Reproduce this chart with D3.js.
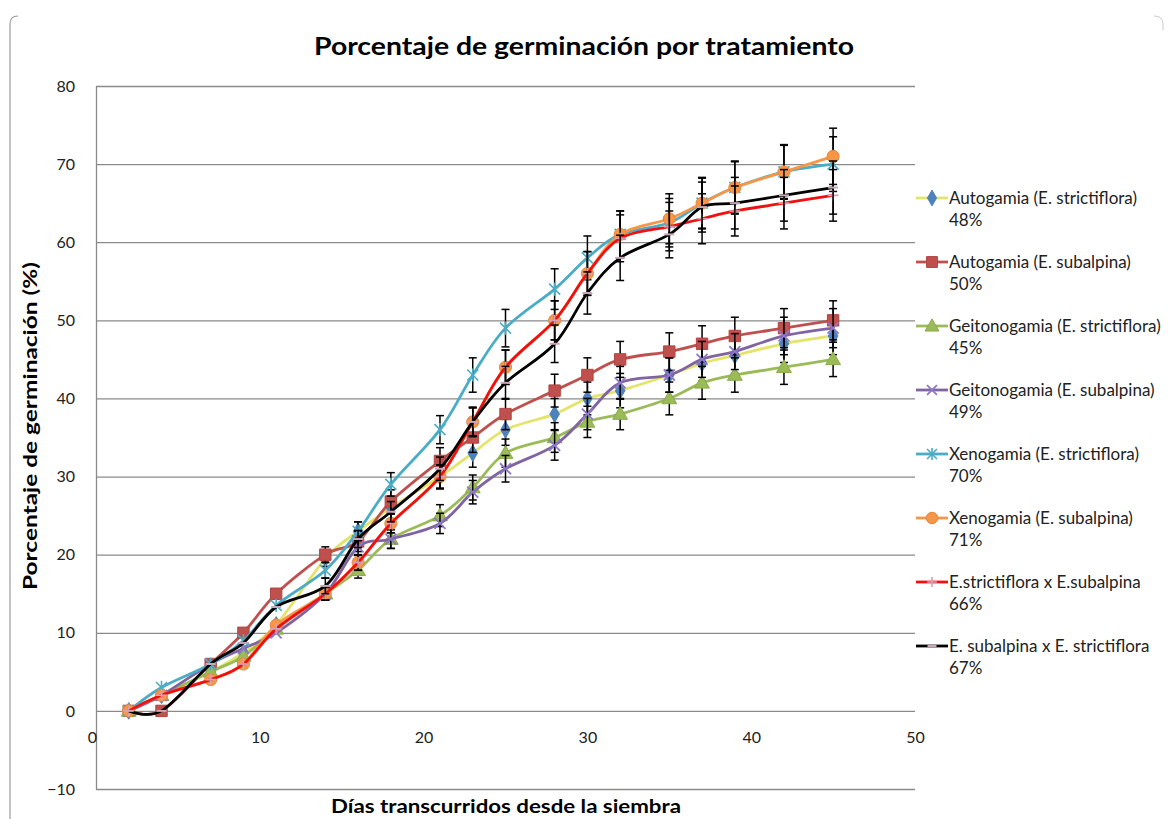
<!DOCTYPE html>
<html><head><meta charset="utf-8">
<script src="https://cdn.jsdelivr.net/npm/d3@7"></script>
<style>
html,body{margin:0;padding:0;background:#fff;}
svg{display:block;font-family:Lato,"Open Sans",sans-serif;}
</style></head>
<body><svg id="c" width="1168" height="819"></svg>
<script>
// ---- data ----
const days = [2,4,7,9,11,14,16,18,21,23,25,28,30,32,35,37,39,42,45];
const seriesNames = ["Autogamia (E. strictiflora)","Autogamia (E. subalpina)","Geitonogamia (E. strictiflora)","Geitonogamia (E. subalpina)","Xenogamia (E. strictiflora)","Xenogamia (E. subalpina)","E.strictiflora x E.subalpina","E. subalpina x E. strictiflora"];
const seriesPct = ["48%","50%","45%","49%","70%","71%","66%","67%"];
const autoStrict  = [0,2,5,7.5,11,19.5,23,26,30,33,36,38,40,41,43,44.5,45.5,47,48];
const autoSub     = [0,0,6,10,15,20,21.7,26.8,32,35,38,41,43,45,46,47,48,49,50];
const geitoStrict = [0,2,5,7,10.5,15,18,22,25,28.6,33,35,37,38,40,42,43,44,45];
const geitoSub    = [0,2,6,8,10,15,21,22,24,28,31,34,38,42,43,45,46,48,49];
const xenoStrict  = [0,3,6,9,13.5,18,23,29,36,43,49,54,58,61,62.5,65,67,69,70];
const xenoSub     = [0,2,4,6,11,15,19,24,30,37,44,50,56,61,63,65,67,69,71];
const strictXsub  = [0,2,4,6,10.5,15,19,24,30,37,44,50,56,60.5,62,63,64,65,66];
const subXstrict  = [0,0,6,8.7,13.3,16,22,25.5,31,37,42,47,53.5,58,61,64.5,65,66,67];
// error bar half-widths (percentage points)
const errAutoStrict  = [0,0,0,0,0,1,1.2,1.4,1.6,1.8,2,2,2.1,2.2,2.2,2.3,2.3,2.4,2.4];
const errAutoSub     = [0,0,0,0,0,1,1.3,1.5,1.7,1.9,2,2.1,2.2,2.3,2.4,2.3,2.4,2.5,2.5];
const errGeitoStrict = [0,0,0,0,0,0.8,1,1.2,1.4,1.6,1.8,1.9,2,2,2.1,2.1,2.2,2.2,2.2];
const errGeitoSub    = [0,0,0,0,0,0.8,1.1,1.2,1.3,1.5,1.7,1.9,2,2.1,2.2,2.3,2.3,2.4,2.5];
const errXenoStrict  = [0,0,0,0,0,1,1.2,1.5,1.8,2.2,2.4,2.6,2.8,3,3.1,3.2,3.3,3.4,3.5];
const errXenoSub     = [0,0,0,0,0,0.8,1,1.2,1.5,1.9,2.2,2.5,2.8,3,3.2,3.3,3.4,3.5,3.6];
const errStrictXsub  = [0,0,0,0,0,0.8,1,1.2,1.5,1.8,2.2,2.5,2.8,3,3.1,3.2,3.2,3.3,3.3];
const errSubXstrict  = [0,0,0,0,0,1,1.1,1.3,1.5,1.8,2.1,2.4,2.7,2.9,3,3.2,3.3,3.3,3.4];
const yTicks = [-10,0,10,20,30,40,50,60,70,80];
const xTicks = [0,10,20,30,40,50];

const values = [autoStrict,autoSub,geitoStrict,geitoSub,xenoStrict,xenoSub,strictXsub,subXstrict];
const errors = [errAutoStrict,errAutoSub,errGeitoStrict,errGeitoSub,errXenoStrict,errXenoSub,errStrictXsub,errSubXstrict];
const styles = [
  {line:"#E4E46A", mk:"diamond", fill:"#4F81BD", stroke:"#4F81BD"},
  {line:"#C0504D", mk:"square", fill:"#C0504D", stroke:"#B04440"},
  {line:"#9BBB59", mk:"triangle", fill:"#9BBB59", stroke:"#8AAA48"},
  {line:"#8064A2", mk:"x", fill:"none", stroke:"#8E78C8"},
  {line:"#4BACC6", mk:"star", fill:"none", stroke:"#4BACC6"},
  {line:"#F79646", mk:"circle", fill:"#F79646", stroke:"#E8863A"},
  {line:"#F01010", mk:"plus", fill:"none", stroke:"#D8A0B8"},
  {line:"#000000", mk:"dash", fill:"none", stroke:"#C8A8B8"}
];

const svg = d3.select("#c");
const x = d3.scaleLinear().domain([0,50]).range([96,915]);
const y = d3.scaleLinear().domain([-10,80]).range([789,86]);

// outer frame
svg.append("path").attr("d","M10,819 L10,24 Q10,16 18,16").attr("fill","none").attr("stroke","#9a9a9a").attr("stroke-width",1.2);
svg.append("path").attr("d","M1154,16 Q1163,16 1163,24 L1163,30").attr("fill","none").attr("stroke","#c8c8c8").attr("stroke-width",1);

// gridlines
const grid = svg.append("g").attr("transform","translate(96,0)")
  .call(d3.axisLeft(y).tickValues(yTicks).tickSize(-(915-96)).tickFormat(""));
grid.select(".domain").remove();
grid.selectAll("line").attr("stroke","#8a8a8a").attr("stroke-width",1.3);

// y axis
const ya = svg.append("g").attr("transform","translate(96,0)")
  .call(d3.axisLeft(y).tickValues(yTicks).tickSize(0).tickPadding(21).tickFormat(d3.format("d")));
ya.select(".domain").attr("stroke","#8a8a8a").attr("stroke-width",1.3);
ya.selectAll("text").attr("font-size",16).attr("fill","#222").attr("font-family","Lato,sans-serif");

// x axis labels at y=0
const xa = svg.append("g").attr("transform",`translate(0,${y(0)})`)
  .call(d3.axisBottom(x).tickValues(xTicks).tickSize(0).tickPadding(21).tickFormat(d3.format("d")));
xa.select(".domain").remove();
xa.selectAll("text").attr("font-size",16).attr("fill","#222").attr("font-family","Lato,sans-serif");
xa.selectAll(".tick").filter(d=>d===0).select("text").attr("dx",-4);

// titles
svg.append("text").attr("x",584).attr("y",55).attr("text-anchor","middle")
  .attr("font-size",24).attr("font-weight","bold").attr("fill","#000")
  .attr("textLength",540).attr("lengthAdjust","spacingAndGlyphs")
  .text("Porcentaje de germinación por tratamiento");
svg.append("text").attr("transform","translate(37,426) rotate(-90)").attr("text-anchor","middle")
  .attr("font-size",18).attr("font-weight","bold").attr("fill","#000")
  .attr("textLength",328).attr("lengthAdjust","spacingAndGlyphs")
  .text("Porcentaje de germinación (%)");
svg.append("text").attr("x",506).attr("y",813).attr("text-anchor","middle")
  .attr("font-size",18).attr("font-weight","bold").attr("fill","#000")
  .attr("textLength",350).attr("lengthAdjust","spacingAndGlyphs")
  .text("Días transcurridos desde la siembra");

// marker drawing
function marker(g, type, st, cx, cy, scale){
  const s = scale||1;
  if(type==="diamond"){
    g.append("path").attr("d",d3.symbol(d3.symbolDiamond,80*s)()).attr("transform",`translate(${cx},${cy})`).attr("fill",st.fill).attr("stroke",st.stroke);
  } else if(type==="square"){
    g.append("path").attr("d",d3.symbol(d3.symbolSquare,130*s)()).attr("transform",`translate(${cx},${cy})`).attr("fill",st.fill).attr("stroke",st.stroke);
  } else if(type==="triangle"){
    g.append("path").attr("d",d3.symbol(d3.symbolTriangle,95*s)()).attr("transform",`translate(${cx},${cy+1})`).attr("fill",st.fill).attr("stroke",st.stroke);
  } else if(type==="circle"){
    g.append("path").attr("d",d3.symbol(d3.symbolCircle,115*s)()).attr("transform",`translate(${cx},${cy})`).attr("fill",st.fill).attr("stroke",st.stroke);
  } else if(type==="x"){
    const r=5.5*s;
    g.append("path").attr("d",`M${cx-r},${cy-r}L${cx+r},${cy+r}M${cx-r},${cy+r}L${cx+r},${cy-r}`).attr("stroke",st.stroke).attr("stroke-width",1.8);
  } else if(type==="star"){
    const r=5.5*s;
    g.append("path").attr("d",`M${cx-r},${cy-r}L${cx+r},${cy+r}M${cx-r},${cy+r}L${cx+r},${cy-r}M${cx},${cy-r*1.2}L${cx},${cy+r*1.2}`).attr("stroke",st.stroke).attr("stroke-width",1.6);
  } else if(type==="plus"){
    const r=5.5*s;
    g.append("path").attr("d",`M${cx-r},${cy}L${cx+r},${cy}M${cx},${cy-r}L${cx},${cy+r}`).attr("stroke",st.stroke).attr("stroke-width",1.6);
  } else if(type==="dash"){
    const r=5*s;
    g.append("path").attr("d",`M${cx-r},${cy}L${cx+r},${cy}`).attr("stroke",st.stroke).attr("stroke-width",2);
  }
}

const line = d3.line().x(d=>x(d[0])).y(d=>y(d[1])).curve(d3.curveCatmullRom.alpha(0));
const plot = svg.append("g");
values.forEach((vals,i)=>{
  const st = styles[i];
  const pts = days.map((d,j)=>[d,vals[j]]);
  const g = plot.append("g");
  g.append("path").datum(pts).attr("d",line).attr("fill","none").attr("stroke",st.line).attr("stroke-width",2.8);
  // error bars
  const eb = g.append("g").attr("stroke","#000").attr("stroke-width",1.5);
  pts.forEach((p,j)=>{
    const e = errors[i][j];
    if(e<=0) return;
    const cx = x(p[0]), y1=y(p[1]+e), y2=y(p[1]-e);
    eb.append("line").attr("x1",cx).attr("x2",cx).attr("y1",y1).attr("y2",y2);
    eb.append("line").attr("x1",cx-4).attr("x2",cx+4).attr("y1",y1).attr("y2",y1);
    eb.append("line").attr("x1",cx-4).attr("x2",cx+4).attr("y1",y2).attr("y2",y2);
  });
  pts.forEach(p=>marker(g, st.mk, st, x(p[0]), y(p[1])));
});

// legend
const lg = svg.append("g");
seriesNames.forEach((nm,i)=>{
  const ly = 198 + 64*i;
  lg.append("line").attr("x1",916).attr("x2",948).attr("y1",ly).attr("y2",ly).attr("stroke",styles[i].line).attr("stroke-width",2.8);
  marker(lg, styles[i].mk, styles[i], 932, ly, 0.9);
  lg.append("text").attr("x",949).attr("y",ly+6).attr("font-size",17).attr("fill","#222").text(nm);
  lg.append("text").attr("x",949).attr("y",ly+28).attr("font-size",17).attr("fill","#222").text(seriesPct[i]);
});
</script></body></html>
